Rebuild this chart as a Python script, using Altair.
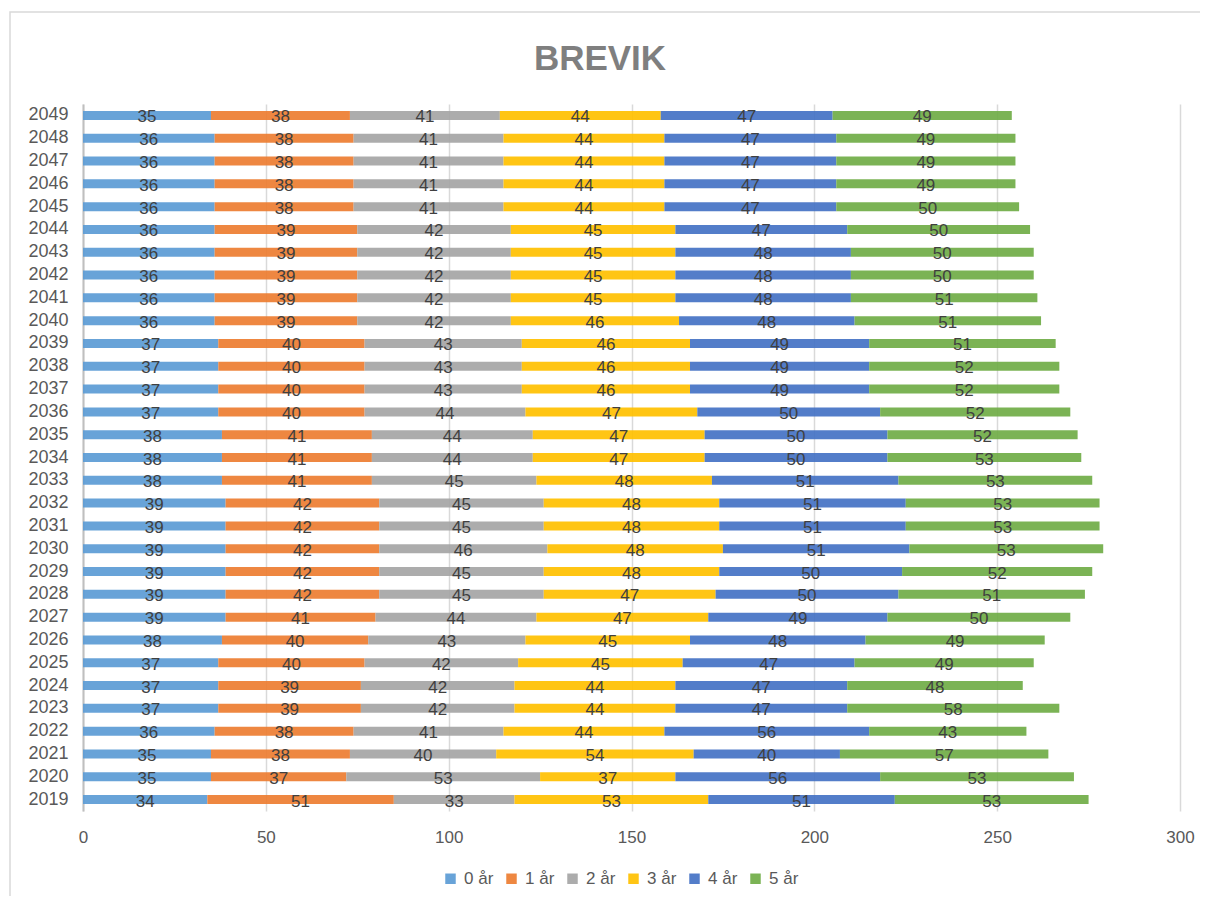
import altair as alt
import pandas as pd

years = list(range(2049, 2018, -1))
series_names = ["0 år", "1 år", "2 år", "3 år", "4 år", "5 år"]
colors = ["#5B9BD5", "#ED7D31", "#A5A5A5", "#FFC000", "#4472C4", "#70AD47"]

s0 = [35, 36, 36, 36, 36, 36, 36, 36, 36, 36, 37, 37, 37, 37, 38, 38, 38, 39, 39, 39, 39, 39, 39, 38, 37, 37, 37, 36, 35, 35, 34]
s1 = [38, 38, 38, 38, 38, 39, 39, 39, 39, 39, 40, 40, 40, 40, 41, 41, 41, 42, 42, 42, 42, 42, 41, 40, 40, 39, 39, 38, 38, 37, 51]
s2 = [41, 41, 41, 41, 41, 42, 42, 42, 42, 42, 43, 43, 43, 44, 44, 44, 45, 45, 45, 46, 45, 45, 44, 43, 42, 42, 42, 41, 40, 53, 33]
s3 = [44, 44, 44, 44, 44, 45, 45, 45, 45, 46, 46, 46, 46, 47, 47, 47, 48, 48, 48, 48, 48, 47, 47, 45, 45, 44, 44, 44, 54, 37, 53]
s4 = [47, 47, 47, 47, 47, 47, 48, 48, 48, 48, 49, 49, 49, 50, 50, 50, 51, 51, 51, 51, 50, 50, 49, 48, 47, 47, 47, 56, 40, 56, 51]
s5 = [49, 49, 49, 49, 50, 50, 50, 50, 51, 51, 51, 52, 52, 52, 52, 53, 53, 53, 53, 53, 52, 51, 50, 49, 49, 48, 58, 43, 57, 53, 53]
title_text = "BREVIK"

series_values = [s0, s1, s2, s3, s4, s5]
rows = []
for si, (name, vals) in enumerate(zip(series_names, series_values)):
    for y, v in zip(years, vals):
        rows.append({"year": str(y), "series": name, "order": si, "value": v})
df = pd.DataFrame(rows)

year_order = [str(y) for y in years]
FONT = "Liberation Sans"

base = alt.Chart(df).transform_stack(
    stack="value", groupby=["year"], as_=["v0", "v1"], sort=[{"field": "order", "order": "ascending"}]
).transform_calculate(mid="(datum.v0 + datum.v1) / 2")

yenc = alt.Y(
    "year:N",
    sort=year_order,
    title=None,
    scale=alt.Scale(paddingInner=0, paddingOuter=0),
    axis=alt.Axis(
        labelFontSize=18, labelColor="#595959", labelFont=FONT,
        ticks=False, domain=True, domainColor="#BFBFBF", domainWidth=2, labelPadding=15,
    ),
)

bars = base.mark_bar(size=9, opacity=0.92).encode(
    x=alt.X(
        "v0:Q",
        scale=alt.Scale(domain=[0, 300], nice=False),
        title=None,
        axis=alt.Axis(
            values=[0, 50, 100, 150, 200, 250, 300], labelFontSize=17, labelColor="#595959",
            labelFont=FONT, grid=True, gridColor="#D9D9D9", gridWidth=1.5,
            domain=False, ticks=False, labelPadding=18, labelFlush=False,
        ),
    ),
    x2="v1:Q",
    y=yenc,
    color=alt.Color(
        "series:N",
        scale=alt.Scale(domain=series_names, range=colors),
        legend=alt.Legend(
            title=None, orient="none", direction="horizontal", legendX=359, legendY=766,
            labelFontSize=17, labelColor="#595959", labelFont=FONT,
            symbolType="square", symbolSize=110, symbolStrokeWidth=0, columnPadding=9,
            labelOffset=5,
        ),
    ),
    order=alt.Order("order:Q"),
)

labels = base.mark_text(
    fontSize=17, color="#404040", font=FONT, baseline="middle", dy=2
).encode(
    x=alt.X("mid:Q"),
    y=alt.Y("year:N", sort=year_order),
    text=alt.Text("value:Q"),
)

single = alt.Data(values=[{"t": title_text}])

border = alt.Chart(single).mark_rect(
    fill="transparent", stroke="#D9D9D9", strokeWidth=1.5
).encode(
    x=alt.value(-73), x2=alt.value(1130), y=alt.value(-92), y2=alt.value(810)
)

title = alt.Chart(single).mark_text(
    fontSize=35, fontWeight="bold", color="#7F7F7F", font=FONT, baseline="middle", align="center"
).encode(
    x=alt.value(517), y=alt.value(-45), text="t:N"
)

chart = alt.layer(border, bars, labels, title).properties(
    width=1097,
    height=707,
    background="white",
    autosize=alt.AutoSizeParams(type="none"),
    padding={"left": 75, "top": 96, "right": 20, "bottom": 85},
).configure_view(strokeWidth=0, stroke="transparent")

chart.save("out.html", embed_options={"renderer": "svg", "actions": False})
